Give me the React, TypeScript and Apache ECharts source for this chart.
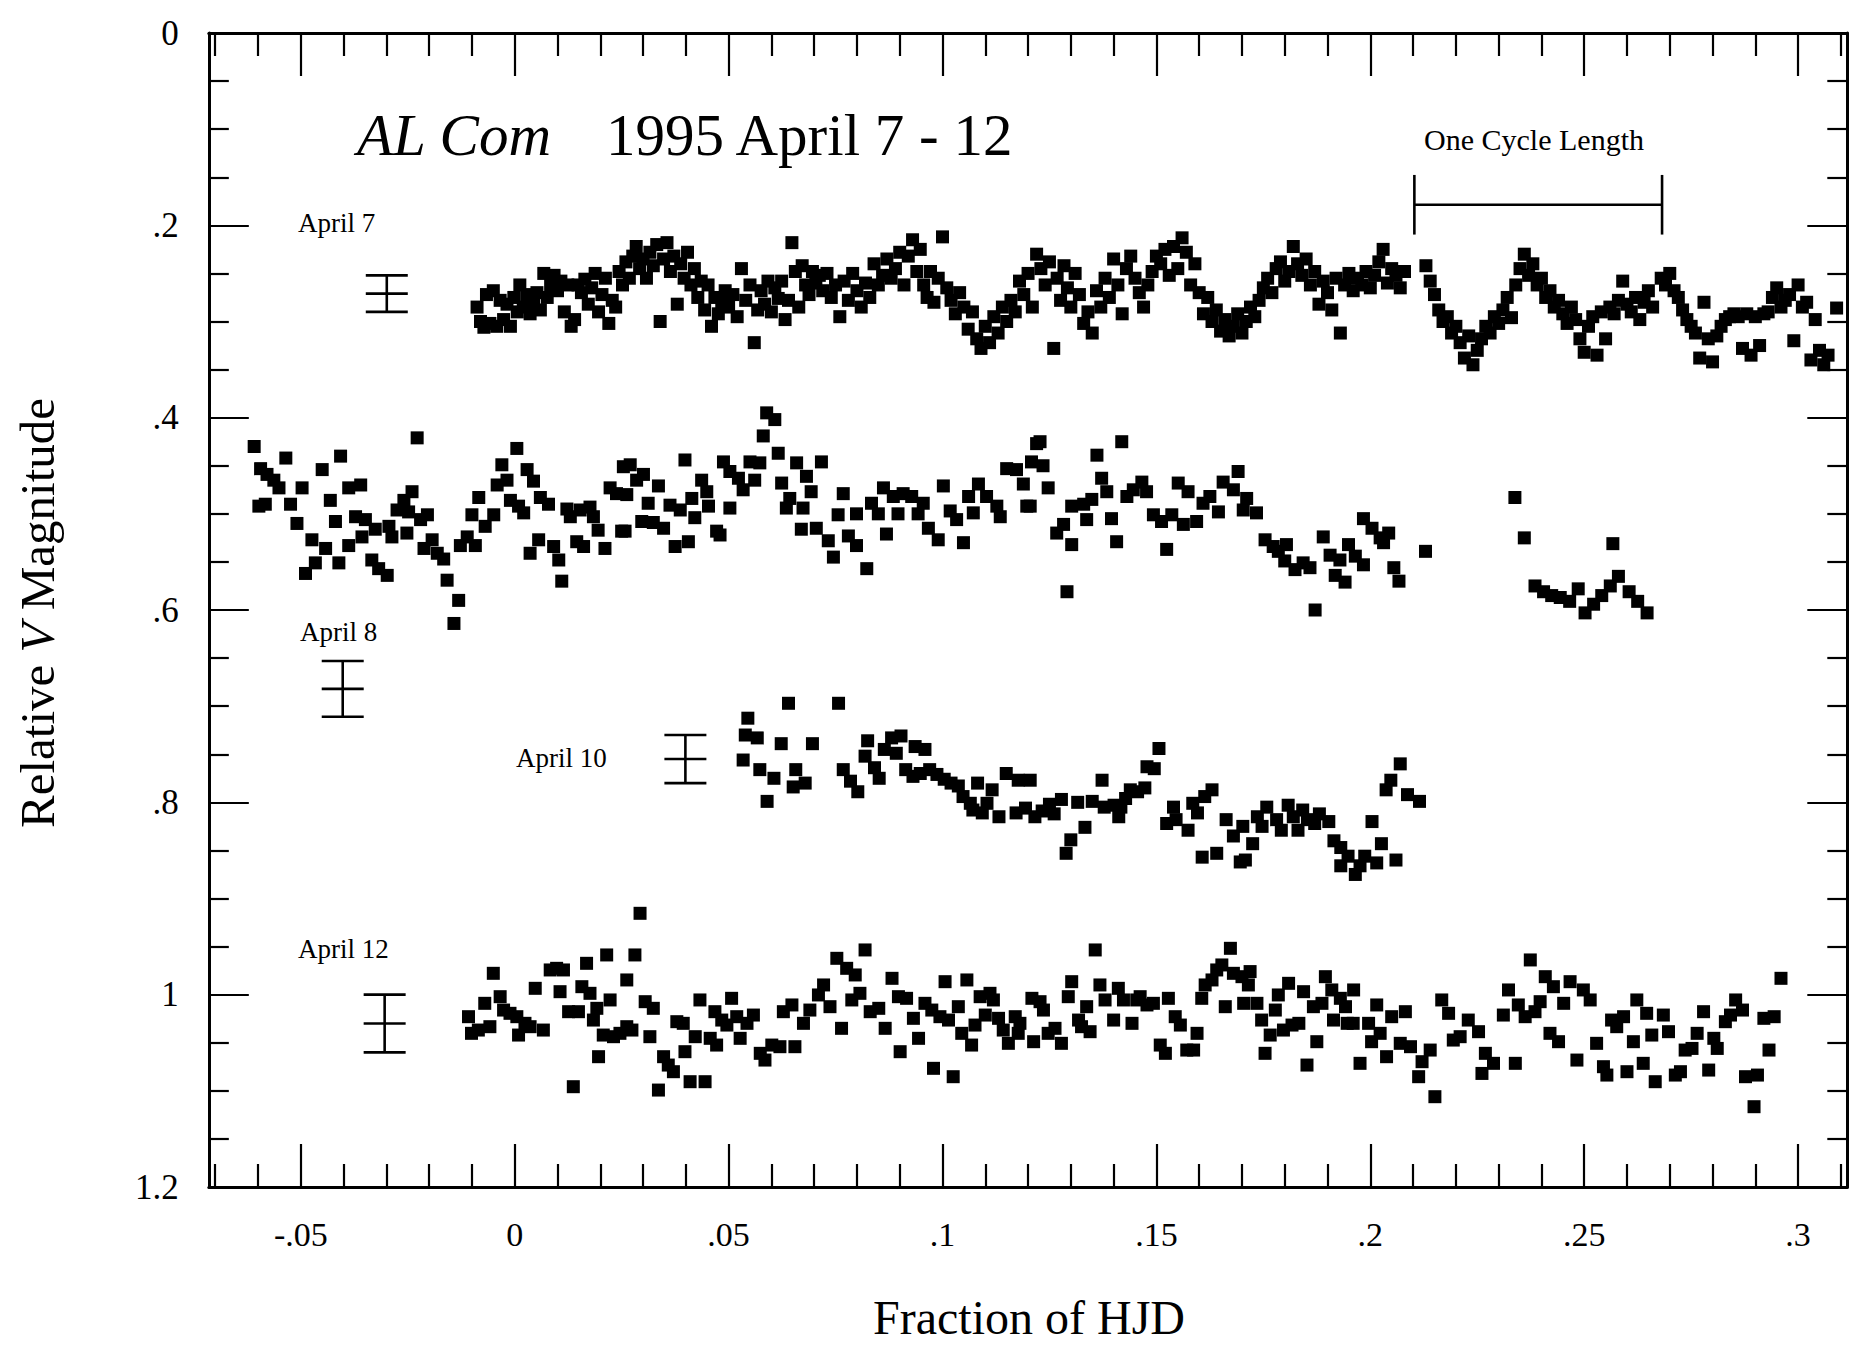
import React, { useEffect, useRef } from "react";
import * as echarts from "echarts";

const FONT = "'Liberation Serif', 'Times New Roman', Times, serif";

const X_MIN = -0.0715;
const X_MAX = 0.3115;
const Y_MIN = 0;
const Y_MAX = 1.2;

const xMajorTicks = [-0.05, 0, 0.05, 0.1, 0.15, 0.2, 0.25, 0.3];
const xMajorLabels = ["-.05", "0", ".05", ".1", ".15", ".2", ".25", ".3"];
const xMinorTicks = [-0.07, -0.06, -0.04, -0.03, -0.02, -0.01, 0.01, 0.02, 0.03, 0.04, 0.06, 0.07, 0.08, 0.09, 0.11, 0.12, 0.13, 0.14, 0.16, 0.17, 0.18, 0.19, 0.21, 0.22, 0.23, 0.24, 0.26, 0.27, 0.28, 0.29, 0.31];
const yMajorTicks = [0, 0.2, 0.4, 0.6, 0.8, 1.0, 1.2];
const yMajorLabels = ["0", ".2", ".4", ".6", ".8", "1", "1.2"];
const yMinorTicks = [0.05, 0.1, 0.15, 0.25, 0.3, 0.35, 0.45, 0.5, 0.55, 0.65, 0.7, 0.75, 0.85, 0.9, 0.95, 1.05, 1.1, 1.15];

// [x, centre, half-length]
const errorBars = [
  [-0.0299, 0.271, 0.019],
  [-0.0402, 0.682, 0.029],
  [0.0399, 0.755, 0.025],
  [-0.0304, 1.03, 0.03],
];

// [x start, x end, y, half height]
const cycleBracket = [[0.2103, 0.2682, 0.1786, 0.031]];

const april7 = [
  [-0.0088, 0.285], [-0.008, 0.3], [-0.0072, 0.306], [-0.0066, 0.272], [-0.0058, 0.302], [-0.005, 0.268], [-0.0042, 0.305], [-0.0034, 0.278], [-0.0026, 0.298], [-0.0018, 0.282], [-0.001, 0.305], [-0.0002, 0.275],
  [0.0006, 0.29], [0.0012, 0.262], [0.002, 0.285], [0.0028, 0.272], [0.0036, 0.292], [0.0044, 0.28], [0.0052, 0.27], [0.006, 0.288], [0.0068, 0.25], [0.0076, 0.275], [0.0084, 0.262], [0.0092, 0.252], [0.01, 0.268], [0.0108, 0.258], [0.0116, 0.29], [0.0124, 0.262], [0.0132, 0.305], [0.014, 0.298], [0.0148, 0.262], [0.0156, 0.27], [0.0164, 0.256], [0.0172, 0.282], [0.018, 0.265], [0.0188, 0.25], [0.0196, 0.29],
  [0.0204, 0.272], [0.0212, 0.255], [0.022, 0.302], [0.0228, 0.278], [0.0236, 0.285], [0.0244, 0.248], [0.0252, 0.262], [0.026, 0.238], [0.0268, 0.255], [0.0276, 0.232], [0.0284, 0.222], [0.0292, 0.245], [0.03, 0.235], [0.0308, 0.255], [0.0316, 0.228], [0.0324, 0.242], [0.0332, 0.22], [0.034, 0.3], [0.0348, 0.235], [0.0356, 0.218], [0.0364, 0.248], [0.0372, 0.232], [0.038, 0.282], [0.0388, 0.24], [0.0396, 0.255],
  [0.0404, 0.228], [0.0412, 0.262], [0.042, 0.245], [0.0428, 0.275], [0.0436, 0.258], [0.0444, 0.288], [0.0452, 0.262], [0.046, 0.305], [0.0468, 0.275], [0.0476, 0.292], [0.0484, 0.28], [0.0492, 0.268], [0.05, 0.285], [0.051, 0.272], [0.052, 0.295], [0.053, 0.245], [0.054, 0.278], [0.055, 0.262], [0.056, 0.322], [0.0568, 0.288], [0.0576, 0.268], [0.0584, 0.282], [0.0592, 0.258],
  [0.06, 0.29], [0.0608, 0.265], [0.0616, 0.276], [0.0624, 0.258], [0.0632, 0.298], [0.064, 0.278], [0.0648, 0.218], [0.0656, 0.248], [0.0664, 0.285], [0.0672, 0.242], [0.068, 0.262], [0.0688, 0.272], [0.0696, 0.248], [0.0704, 0.26], [0.0712, 0.252], [0.072, 0.268], [0.073, 0.25], [0.074, 0.275], [0.075, 0.262], [0.076, 0.295], [0.077, 0.258], [0.078, 0.278], [0.079, 0.25],
  [0.08, 0.268], [0.081, 0.285], [0.082, 0.26], [0.083, 0.275], [0.084, 0.24], [0.085, 0.262], [0.086, 0.252], [0.087, 0.235], [0.088, 0.255], [0.089, 0.245], [0.09, 0.228], [0.091, 0.262], [0.092, 0.232], [0.093, 0.215], [0.094, 0.248], [0.0948, 0.225], [0.0956, 0.262], [0.0964, 0.275], [0.0972, 0.248], [0.098, 0.28], [0.099, 0.255],
  [0.1, 0.212], [0.101, 0.265], [0.102, 0.278], [0.103, 0.292], [0.104, 0.27], [0.105, 0.285], [0.106, 0.308], [0.107, 0.29], [0.108, 0.318], [0.109, 0.328], [0.11, 0.305], [0.111, 0.322], [0.112, 0.295], [0.113, 0.312], [0.114, 0.285], [0.115, 0.3], [0.116, 0.278], [0.117, 0.29], [0.118, 0.258], [0.119, 0.272],
  [0.12, 0.25], [0.121, 0.285], [0.122, 0.23], [0.123, 0.245], [0.124, 0.262], [0.125, 0.238], [0.126, 0.328], [0.1268, 0.255], [0.1276, 0.278], [0.1284, 0.242], [0.1292, 0.265], [0.13, 0.285], [0.131, 0.25], [0.132, 0.272], [0.133, 0.302], [0.134, 0.29], [0.135, 0.312], [0.136, 0.268], [0.137, 0.285], [0.138, 0.255], [0.139, 0.275],
  [0.14, 0.235], [0.141, 0.262], [0.142, 0.292], [0.143, 0.245], [0.144, 0.232], [0.145, 0.255], [0.146, 0.27], [0.147, 0.285], [0.148, 0.262], [0.149, 0.248], [0.15, 0.232], [0.151, 0.24], [0.152, 0.225], [0.153, 0.252], [0.154, 0.222], [0.155, 0.245], [0.156, 0.213], [0.157, 0.228], [0.158, 0.262], [0.159, 0.24],
  [0.16, 0.27], [0.161, 0.292], [0.162, 0.275], [0.163, 0.3], [0.164, 0.288], [0.165, 0.31], [0.166, 0.298], [0.167, 0.315], [0.168, 0.305], [0.169, 0.292], [0.17, 0.312], [0.171, 0.3], [0.172, 0.285], [0.173, 0.295], [0.174, 0.278], [0.175, 0.265], [0.176, 0.255], [0.177, 0.27], [0.178, 0.245], [0.179, 0.238],
  [0.18, 0.258], [0.181, 0.248], [0.182, 0.222], [0.183, 0.24], [0.184, 0.252], [0.185, 0.235], [0.186, 0.262], [0.187, 0.248], [0.188, 0.282], [0.189, 0.258], [0.19, 0.27], [0.191, 0.288], [0.192, 0.255], [0.193, 0.312], [0.194, 0.262], [0.195, 0.25], [0.196, 0.268], [0.197, 0.255], [0.198, 0.262], [0.199, 0.248],
  [0.2, 0.265], [0.201, 0.252], [0.202, 0.238], [0.203, 0.225], [0.204, 0.26], [0.205, 0.245], [0.206, 0.252], [0.207, 0.265], [0.208, 0.248],
  [0.213, 0.242], [0.214, 0.258], [0.215, 0.272], [0.216, 0.288], [0.217, 0.3], [0.218, 0.295], [0.219, 0.312], [0.22, 0.305], [0.221, 0.322], [0.222, 0.338], [0.223, 0.315], [0.224, 0.345], [0.225, 0.33], [0.226, 0.318], [0.227, 0.305], [0.228, 0.312], [0.229, 0.295],
  [0.23, 0.302], [0.231, 0.288], [0.232, 0.275], [0.233, 0.296], [0.234, 0.262], [0.235, 0.245], [0.236, 0.23], [0.237, 0.252], [0.238, 0.24], [0.239, 0.262], [0.24, 0.255], [0.241, 0.275], [0.242, 0.268], [0.243, 0.285], [0.244, 0.278], [0.245, 0.292], [0.246, 0.302], [0.247, 0.285], [0.248, 0.298], [0.249, 0.318],
  [0.25, 0.332], [0.251, 0.305], [0.252, 0.295], [0.253, 0.335], [0.254, 0.29], [0.255, 0.318], [0.256, 0.285], [0.257, 0.292], [0.258, 0.278], [0.259, 0.258], [0.26, 0.282], [0.261, 0.29], [0.262, 0.275], [0.263, 0.298], [0.264, 0.28], [0.265, 0.268], [0.266, 0.285], [0.268, 0.255], [0.269, 0.262],
  [0.27, 0.25], [0.271, 0.268], [0.272, 0.275], [0.273, 0.288], [0.274, 0.298], [0.275, 0.305], [0.276, 0.312], [0.277, 0.338], [0.278, 0.28], [0.279, 0.318], [0.28, 0.342], [0.281, 0.315], [0.282, 0.305], [0.283, 0.298], [0.284, 0.295], [0.285, 0.292], [0.286, 0.295], [0.287, 0.328], [0.288, 0.292], [0.289, 0.335],
  [0.29, 0.295], [0.291, 0.325], [0.292, 0.292], [0.293, 0.29], [0.294, 0.275], [0.295, 0.265], [0.296, 0.285], [0.297, 0.278], [0.298, 0.272], [0.299, 0.32], [0.3, 0.262], [0.301, 0.285], [0.302, 0.28], [0.303, 0.34], [0.304, 0.298], [0.305, 0.33], [0.306, 0.345], [0.307, 0.335], [0.309, 0.286],
];

const april8 = [
  [-0.0609, 0.43], [-0.0598, 0.492], [-0.0594, 0.453], [-0.0583, 0.49], [-0.0579, 0.459], [-0.0563, 0.465], [-0.0551, 0.473], [-0.0535, 0.442], [-0.0524, 0.49], [-0.0509, 0.51], [-0.0497, 0.473], [-0.0489, 0.562], [-0.0474, 0.527], [-0.0466, 0.551], [-0.045, 0.454], [-0.0442, 0.536], [-0.0431, 0.486], [-0.0419, 0.508], [-0.0411, 0.551], [-0.0407, 0.44],
  [-0.0388, 0.473], [-0.0388, 0.533], [-0.0372, 0.503], [-0.036, 0.47], [-0.0357, 0.524], [-0.0349, 0.506], [-0.0334, 0.548], [-0.0326, 0.516], [-0.0318, 0.557], [-0.0298, 0.564], [-0.0294, 0.513], [-0.0287, 0.524], [-0.0275, 0.496], [-0.0259, 0.486], [-0.0252, 0.52], [-0.0248, 0.498], [-0.024, 0.477], [-0.0228, 0.421], [-0.022, 0.506], [-0.0212, 0.536], [-0.0204, 0.501],
  [-0.0193, 0.527], [-0.0181, 0.541], [-0.0166, 0.547], [-0.0158, 0.569], [-0.0142, 0.614], [-0.0131, 0.59], [-0.0127, 0.533], [-0.0111, 0.524], [-0.01, 0.501], [-0.0092, 0.533], [-0.0084, 0.483], [-0.0069, 0.513], [-0.0049, 0.501], [-0.0041, 0.47], [-0.003, 0.449], [-0.0018, 0.465], [-0.001, 0.486],
  [0.0005, 0.432], [0.0009, 0.492], [0.0021, 0.499], [0.0029, 0.454], [0.0036, 0.541], [0.0044, 0.466], [0.0056, 0.527], [0.006, 0.483], [0.0079, 0.49], [0.0091, 0.534], [0.0103, 0.548], [0.011, 0.57], [0.0122, 0.495], [0.013, 0.503], [0.0145, 0.529], [0.0153, 0.496], [0.0161, 0.534], [0.0176, 0.493], [0.0184, 0.503], [0.0195, 0.517],
  [0.0211, 0.536], [0.0223, 0.473], [0.0238, 0.479], [0.025, 0.518], [0.0254, 0.451], [0.0258, 0.518], [0.0262, 0.48], [0.027, 0.449], [0.0285, 0.465], [0.0297, 0.508], [0.0301, 0.459], [0.0312, 0.489], [0.0324, 0.509], [0.0336, 0.471], [0.0348, 0.515], [0.0363, 0.491], [0.0375, 0.534], [0.0387, 0.496], [0.0398, 0.444],
  [0.0406, 0.529], [0.0414, 0.484], [0.0421, 0.504], [0.0437, 0.465], [0.0449, 0.477], [0.0453, 0.492], [0.0472, 0.518], [0.048, 0.522], [0.0488, 0.446], [0.0503, 0.494], [0.0503, 0.456], [0.0523, 0.463], [0.0534, 0.475], [0.055, 0.446], [0.0561, 0.465], [0.0573, 0.447], [0.0581, 0.419], [0.0589, 0.395],
  [0.0608, 0.402], [0.0616, 0.437], [0.0624, 0.468], [0.0635, 0.494], [0.0643, 0.484], [0.0659, 0.447], [0.067, 0.516], [0.0674, 0.494], [0.0682, 0.461], [0.0693, 0.477], [0.0705, 0.515], [0.0717, 0.446], [0.0733, 0.528], [0.0745, 0.545], [0.0756, 0.501], [0.0768, 0.479], [0.078, 0.523], [0.0799, 0.533], [0.0799, 0.5],
  [0.0823, 0.557], [0.0834, 0.489], [0.085, 0.5], [0.0862, 0.473], [0.0869, 0.521], [0.0885, 0.482], [0.0896, 0.5], [0.0908, 0.479], [0.0928, 0.482], [0.0943, 0.5], [0.0955, 0.489], [0.0967, 0.515], [0.099, 0.527],
  [0.1002, 0.471], [0.1018, 0.497], [0.1033, 0.506], [0.1049, 0.53], [0.1061, 0.482], [0.1072, 0.499], [0.1084, 0.469], [0.1103, 0.482], [0.1127, 0.492], [0.1135, 0.503], [0.115, 0.453], [0.1173, 0.454], [0.1189, 0.469], [0.1197, 0.492],
  [0.1205, 0.492], [0.1208, 0.446], [0.122, 0.427], [0.1228, 0.425], [0.1235, 0.45], [0.1247, 0.473], [0.1267, 0.52], [0.1283, 0.511], [0.1291, 0.581], [0.1302, 0.492], [0.1302, 0.532], [0.133, 0.49], [0.1337, 0.506], [0.1349, 0.485], [0.1361, 0.439], [0.1372, 0.463], [0.1384, 0.477], [0.1395, 0.505],
  [0.1407, 0.529], [0.1419, 0.425], [0.1431, 0.482], [0.1446, 0.475], [0.1466, 0.467], [0.1477, 0.477], [0.1493, 0.501], [0.1512, 0.508], [0.1524, 0.537], [0.1536, 0.501], [0.1551, 0.468], [0.1563, 0.511], [0.1574, 0.477], [0.1594, 0.508],
  [0.1609, 0.489], [0.1625, 0.482], [0.1645, 0.498], [0.1656, 0.467], [0.168, 0.475], [0.1691, 0.456], [0.1703, 0.496], [0.1711, 0.484], [0.1734, 0.499], [0.1754, 0.527], [0.1773, 0.534], [0.1785, 0.539], [0.18, 0.549], [0.1804, 0.532], [0.1824, 0.558], [0.1843, 0.551], [0.1859, 0.556], [0.1871, 0.6],
  [0.189, 0.524], [0.1906, 0.543], [0.1918, 0.564], [0.1929, 0.548], [0.1941, 0.571], [0.1949, 0.532], [0.1965, 0.544], [0.1984, 0.553], [0.1984, 0.505], [0.2004, 0.515], [0.2023, 0.525], [0.2031, 0.53], [0.2043, 0.52], [0.2055, 0.556], [0.2067, 0.57], [0.2129, 0.539],
  [0.2338, 0.483], [0.236, 0.525], [0.2385, 0.575], [0.2405, 0.581], [0.2424, 0.585], [0.2444, 0.587], [0.2466, 0.591], [0.2486, 0.578], [0.2502, 0.603], [0.2522, 0.594], [0.2541, 0.585], [0.2561, 0.575], [0.2567, 0.531], [0.258, 0.565], [0.2605, 0.581], [0.2625, 0.591], [0.2647, 0.603],
];

const april10 = [
  [0.0534, 0.756], [0.0539, 0.73], [0.0545, 0.7125], [0.0567, 0.733], [0.0573, 0.766], [0.059, 0.799], [0.0606, 0.775], [0.0623, 0.739], [0.064, 0.697], [0.0651, 0.784], [0.0657, 0.766], [0.0679, 0.78], [0.0696, 0.739], [0.0757, 0.697], [0.0768, 0.766], [0.0785, 0.778],
  [0.0802, 0.789], [0.0819, 0.752], [0.0825, 0.736], [0.0841, 0.764], [0.0852, 0.775], [0.0864, 0.745], [0.0881, 0.733], [0.0892, 0.749], [0.0903, 0.731], [0.0914, 0.766], [0.0931, 0.773], [0.0936, 0.742], [0.0948, 0.77], [0.0959, 0.745], [0.097, 0.766], [0.0987, 0.771],
  [0.1004, 0.776], [0.102, 0.78], [0.1037, 0.783], [0.1048, 0.794], [0.1065, 0.801], [0.1071, 0.808], [0.1082, 0.78], [0.1093, 0.811], [0.1104, 0.801], [0.1116, 0.787], [0.1132, 0.815], [0.1149, 0.77], [0.1172, 0.811], [0.1177, 0.777], [0.1194, 0.806],
  [0.1205, 0.777], [0.1216, 0.815], [0.1233, 0.809], [0.125, 0.802], [0.1261, 0.812], [0.1278, 0.797], [0.1289, 0.853], [0.13, 0.839], [0.1316, 0.8], [0.1333, 0.826], [0.135, 0.799], [0.1373, 0.777], [0.1378, 0.805],
  [0.1401, 0.803], [0.1412, 0.815], [0.1417, 0.805], [0.1428, 0.796], [0.1439, 0.787], [0.1456, 0.789], [0.1473, 0.785], [0.1478, 0.763], [0.1495, 0.765], [0.1506, 0.744], [0.1524, 0.822], [0.154, 0.805], [0.1546, 0.818], [0.1574, 0.829], [0.1585, 0.801], [0.1596, 0.811],
  [0.1607, 0.857], [0.1613, 0.794], [0.163, 0.787], [0.1641, 0.853], [0.1663, 0.818], [0.168, 0.835], [0.1696, 0.862], [0.1702, 0.825], [0.1708, 0.86], [0.1725, 0.843], [0.1736, 0.815], [0.1747, 0.825], [0.1758, 0.805], [0.1781, 0.818], [0.1792, 0.829],
  [0.1808, 0.803], [0.182, 0.815], [0.1831, 0.829], [0.1842, 0.808], [0.1853, 0.818], [0.187, 0.822], [0.1881, 0.812], [0.1903, 0.82], [0.1915, 0.84], [0.1931, 0.847], [0.1931, 0.866], [0.1948, 0.856], [0.1965, 0.875], [0.1976, 0.866], [0.1987, 0.856],
  [0.2004, 0.82], [0.2015, 0.863], [0.2026, 0.843], [0.2037, 0.787], [0.2048, 0.777], [0.206, 0.86], [0.207, 0.76], [0.2087, 0.792], [0.2115, 0.799],
];

const april12 = [
  [-0.0108, 1.0229], [-0.0101, 1.0402], [-0.0085, 1.0368], [-0.007, 1.009], [-0.0058, 1.0333], [-0.005, 0.9778], [-0.0034, 1.0021], [-0.0026, 1.016], [-0.0011, 1.0194],
  [0.0005, 1.0229], [0.0009, 1.042], [0.0024, 1.0298], [0.0036, 1.0333], [0.0048, 0.9934], [0.0067, 1.0368], [0.0083, 0.9743], [0.0098, 0.9726], [0.0106, 0.9969], [0.0114, 0.9743], [0.0126, 1.0177], [0.0137, 1.0957], [0.0149, 1.0177], [0.0157, 0.9917], [0.0168, 0.9674], [0.0176, 0.9986], [0.0184, 1.0264], [0.0192, 1.0142], [0.0196, 1.0645],
  [0.0207, 1.042], [0.0215, 0.9587], [0.0223, 1.0055], [0.0231, 1.0437], [0.0246, 1.0402], [0.0262, 0.9847], [0.0262, 1.0333], [0.0274, 1.0368], [0.0281, 0.9587], [0.0293, 0.9154], [0.0305, 1.0073], [0.0316, 1.0437], [0.0324, 1.0142], [0.0336, 1.0992], [0.0348, 1.0645], [0.0359, 1.0732], [0.0371, 1.0801], [0.0379, 1.0281], [0.0394, 1.0298], [0.0398, 1.0593],
  [0.041, 1.0905], [0.0422, 1.0437], [0.0433, 1.0055], [0.0445, 1.0905], [0.0457, 1.0454], [0.0468, 1.0177], [0.0472, 1.0524], [0.0484, 1.0264], [0.0496, 1.0316], [0.0507, 1.0038], [0.0519, 1.0229], [0.0527, 1.0454], [0.0543, 1.0298], [0.0558, 1.0212], [0.0574, 1.061], [0.0585, 1.068],
  [0.0601, 1.0524], [0.062, 1.0541], [0.0628, 1.0177], [0.0648, 1.0107], [0.0655, 1.0541], [0.0675, 1.0298], [0.069, 1.016], [0.071, 1.0003], [0.0722, 0.9899], [0.0737, 1.0125], [0.0753, 0.9622], [0.0764, 1.035], [0.0776, 0.9726], [0.0788, 1.0055], [0.0796, 0.9795],
  [0.0807, 0.9986], [0.0819, 0.9535], [0.0831, 1.0177], [0.0851, 1.0142], [0.0866, 1.035], [0.0882, 0.983], [0.0897, 1.0021], [0.0901, 1.0593], [0.0916, 1.0038], [0.0932, 1.0246], [0.0944, 1.0454], [0.0959, 1.009], [0.0975, 1.016], [0.0979, 1.0766], [0.0994, 1.0229],
  [0.1006, 0.9865], [0.1014, 1.0264], [0.1025, 1.0853], [0.1037, 1.0125], [0.1045, 1.0402], [0.1057, 0.9847], [0.1068, 1.0524], [0.1076, 1.0316], [0.1088, 1.0021], [0.11, 1.0212], [0.1111, 0.9986], [0.1119, 1.0055], [0.1131, 1.0246], [0.1142, 1.0368], [0.1154, 1.0506], [0.117, 1.0229], [0.1177, 1.0402], [0.1181, 1.0298],
  [0.1209, 1.0038], [0.1213, 1.0489], [0.1228, 1.0073], [0.1236, 1.016], [0.1247, 1.0402], [0.1263, 1.035], [0.1278, 1.0506], [0.1294, 1.0021], [0.1302, 0.9865], [0.1318, 1.0264], [0.1325, 1.0333], [0.1337, 1.0125], [0.1345, 1.0385], [0.1357, 0.9535], [0.1368, 0.9899], [0.138, 1.0055],
  [0.14, 1.0264], [0.1411, 0.9934], [0.1423, 1.0055], [0.1443, 1.0298], [0.1454, 1.0055], [0.1462, 1.0021], [0.1478, 1.0107], [0.1493, 1.009], [0.1509, 1.0524], [0.1521, 1.061], [0.1528, 1.0038], [0.1544, 1.0229], [0.1556, 1.0316], [0.1571, 1.0576], [0.1587, 1.0576], [0.1595, 1.0402],
  [0.1606, 1.0038], [0.1614, 0.9899], [0.163, 0.9847], [0.1641, 0.9743], [0.1653, 0.9691], [0.1661, 1.0125], [0.1673, 0.9518], [0.168, 0.9778], [0.17, 0.9813], [0.1704, 1.009], [0.1715, 0.9899], [0.1719, 0.976], [0.1735, 1.009], [0.1746, 1.0264], [0.1754, 1.061], [0.1766, 1.042], [0.1778, 1.016], [0.1785, 1.0003], [0.1797, 1.0368],
  [0.1809, 0.9882], [0.1817, 1.0316], [0.1833, 1.0298], [0.1844, 0.9969], [0.1852, 1.0732], [0.1867, 1.0125], [0.1875, 1.0489], [0.1887, 1.009], [0.1895, 0.9813], [0.191, 0.9951], [0.1914, 1.0264], [0.193, 1.0038], [0.1942, 1.0125], [0.1946, 1.0298], [0.1961, 0.9951], [0.196, 1.0298], [0.1976, 1.0714], [0.1996, 1.0298],
  [0.2003, 1.0489], [0.2015, 1.0107], [0.2023, 1.0402], [0.2038, 1.0645], [0.205, 1.0229], [0.207, 1.0506], [0.2082, 1.0177], [0.2094, 1.0541], [0.2113, 1.0853], [0.2121, 1.0697], [0.214, 1.0576], [0.2151, 1.1061], [0.2167, 1.0055], [0.2183, 1.0194], [0.2194, 1.0472],
  [0.221, 1.0437], [0.2229, 1.0264], [0.2253, 1.0385], [0.2261, 1.0819], [0.2269, 1.061], [0.2288, 1.0714], [0.2311, 1.0212], [0.2323, 0.9951], [0.2339, 1.0714], [0.2346, 1.0107], [0.2362, 1.0229], [0.2374, 0.9639], [0.2385, 1.0177], [0.2397, 1.0073],
  [0.2409, 0.9813], [0.242, 1.0402], [0.2428, 0.9917], [0.244, 1.0489], [0.2452, 1.009], [0.2467, 0.9865], [0.2483, 1.068], [0.2498, 0.9951], [0.2514, 1.0055], [0.2529, 1.0506], [0.2545, 1.0749], [0.2553, 1.0836], [0.2564, 1.0264], [0.2576, 1.0333], [0.2592, 1.0229],
  [0.26, 1.0801], [0.2615, 1.0489], [0.2623, 1.0055], [0.2638, 1.0714], [0.2646, 1.0194], [0.2658, 1.042], [0.2666, 1.0905], [0.2685, 1.0212], [0.2697, 1.0385], [0.2713, 1.0836], [0.2725, 1.0801], [0.2736, 1.0576], [0.2752, 1.0559], [0.2764, 1.0402], [0.2779, 1.0177], [0.2791, 1.0784],
  [0.2803, 1.0454], [0.2811, 1.0559], [0.283, 1.0281], [0.2842, 1.0212], [0.2854, 1.0055], [0.287, 1.016], [0.2877, 1.0853], [0.2897, 1.1165], [0.2905, 1.0836], [0.292, 1.0246], [0.2932, 1.0576], [0.2944, 1.0229], [0.296, 0.983],
];

const BLACK = "#000";

function labelFor(values: number[], labels: string[]) {
  return (v: number) => {
    const i = values.findIndex((t) => Math.abs(t - v) < 1e-6);
    return i >= 0 ? labels[i] : "";
  };
}

function makeX(position: "bottom" | "top", major: boolean) {
  return {
    type: "value",
    position,
    min: X_MIN,
    max: X_MAX,
    axisLine: { show: major, onZero: false, lineStyle: { color: BLACK, width: 3 } },
    axisTick: {
      show: true,
      inside: true,
      length: major ? 43 : 23,
      customValues: major ? xMajorTicks : xMinorTicks,
      lineStyle: { color: BLACK, width: 2.2 },
    },
    axisLabel:
      major && position === "bottom"
        ? {
            show: true,
            customValues: xMajorTicks,
            formatter: labelFor(xMajorTicks, xMajorLabels),
            fontFamily: FONT,
            fontSize: 34,
            color: BLACK,
            margin: 30,
          }
        : { show: false },
    splitLine: { show: false },
  };
}

function makeY(position: "left" | "right", major: boolean) {
  return {
    type: "value",
    position,
    inverse: true,
    min: Y_MIN,
    max: Y_MAX,
    axisLine: { show: major, onZero: false, lineStyle: { color: BLACK, width: 3 } },
    axisTick: {
      show: true,
      inside: true,
      length: major ? 40 : 20,
      customValues: major ? yMajorTicks : yMinorTicks,
      lineStyle: { color: BLACK, width: 2.2 },
    },
    axisLabel:
      major && position === "left"
        ? {
            show: true,
            customValues: yMajorTicks,
            formatter: labelFor(yMajorTicks, yMajorLabels),
            fontFamily: FONT,
            fontSize: 35,
            color: BLACK,
            margin: 30,
          }
        : { show: false },
    splitLine: { show: false },
  };
}

function scatter(name: string, data: number[][]) {
  return {
    name,
    type: "scatter",
    xAxisIndex: 0,
    yAxisIndex: 0,
    data,
    symbol: "rect",
    symbolSize: 13,
    itemStyle: { color: BLACK, opacity: 1 },
    silent: true,
  };
}

const lineStyle = { stroke: BLACK, lineWidth: 2.6 };

function textEl(text: string, x: number, y: number, fontSize: number, extra: any = {}) {
  return {
    type: "text",
    x,
    y,
    silent: true,
    style: {
      text,
      fontFamily: FONT,
      fontSize,
      fill: BLACK,
      align: "left",
      verticalAlign: "middle",
      ...extra,
    },
  };
}

export default function App() {
  const ref = useRef<HTMLDivElement>(null);

  useEffect(() => {
    if (!ref.current) return;
    const chart = echarts.init(ref.current, null, { renderer: "svg" });
    const left = 514.7 + X_MIN * 4278;
    const right = 514.7 + X_MAX * 4278;
    const option: any = {
      animation: false,
      backgroundColor: "#fff",
      grid: { left, top: 33, width: right - left, height: 1154, containLabel: false },
      xAxis: [makeX("bottom", true), makeX("bottom", false), makeX("top", true), makeX("top", false)],
      yAxis: [makeY("left", true), makeY("left", false), makeY("right", true), makeY("right", false)],
      series: [
        scatter("April 7", april7),
        scatter("April 8", april8),
        scatter("April 10", april10),
        scatter("April 12", april12),
        {
          type: "custom",
          name: "error bars",
          xAxisIndex: 0,
          yAxisIndex: 0,
          silent: true,
          data: errorBars,
          encode: { x: 0, y: 1 },
          renderItem: (params: any, api: any) => {
            const x = api.value(0);
            const c = api.value(1);
            const e = api.value(2);
            const top = api.coord([x, c - e]);
            const mid = api.coord([x, c]);
            const bot = api.coord([x, c + e]);
            const hw = 21;
            return {
              type: "group",
              children: [
                { type: "line", shape: { x1: top[0], y1: top[1], x2: bot[0], y2: bot[1] }, style: lineStyle },
                { type: "line", shape: { x1: top[0] - hw, y1: top[1], x2: top[0] + hw, y2: top[1] }, style: lineStyle },
                { type: "line", shape: { x1: mid[0] - hw, y1: mid[1], x2: mid[0] + hw, y2: mid[1] }, style: lineStyle },
                { type: "line", shape: { x1: bot[0] - hw, y1: bot[1], x2: bot[0] + hw, y2: bot[1] }, style: lineStyle },
              ],
            };
          },
        },
        {
          type: "custom",
          name: "cycle length",
          xAxisIndex: 0,
          yAxisIndex: 0,
          silent: true,
          data: cycleBracket,
          encode: { x: [0, 1], y: 2 },
          renderItem: (params: any, api: any) => {
            const x1 = api.value(0);
            const x2 = api.value(1);
            const y = api.value(2);
            const h = api.value(3);
            const a = api.coord([x1, y]);
            const b = api.coord([x2, y]);
            const a1 = api.coord([x1, y - h]);
            const a2 = api.coord([x1, y + h]);
            const b1 = api.coord([x2, y - h]);
            const b2 = api.coord([x2, y + h]);
            return {
              type: "group",
              children: [
                { type: "line", shape: { x1: a[0], y1: a[1], x2: b[0], y2: b[1] }, style: lineStyle },
                { type: "line", shape: { x1: a1[0], y1: a1[1], x2: a2[0], y2: a2[1] }, style: lineStyle },
                { type: "line", shape: { x1: b1[0], y1: b1[1], x2: b2[0], y2: b2[1] }, style: lineStyle },
              ],
            };
          },
        },
      ],
      graphic: [
        textEl("AL Com", 357, 135, 59, { fontStyle: "italic" }),
        textEl("1995 April 7 - 12", 606, 135, 59),
        textEl("One Cycle Length", 1534, 139, 30, { align: "center" }),
        textEl("April 7", 298, 223, 27),
        textEl("April 8", 300, 632, 27),
        textEl("April 10", 516, 758, 27),
        textEl("April 12", 298, 949, 27),
        textEl("Fraction of HJD", 1029, 1317, 48, { align: "center" }),
        {
          type: "text",
          x: 37,
          y: 613,
          rotation: Math.PI / 2,
          silent: true,
          style: {
            text: "{a|Relative }{b|V}{a| Magnitude}",
            align: "center",
            verticalAlign: "middle",
            fill: BLACK,
            fontFamily: FONT,
            fontSize: 49,
            rich: {
              a: { fontFamily: FONT, fontSize: 49, fill: BLACK },
              b: { fontFamily: FONT, fontSize: 49, fontStyle: "italic", fill: BLACK },
            },
          },
        },
      ],
    };
    chart.setOption(option);
    return () => chart.dispose();
  }, []);

  return (
    <div
      ref={ref}
      style={{ position: "absolute", left: 0, top: 0, width: 1867, height: 1346, background: "#fff" }}
    />
  );
}
